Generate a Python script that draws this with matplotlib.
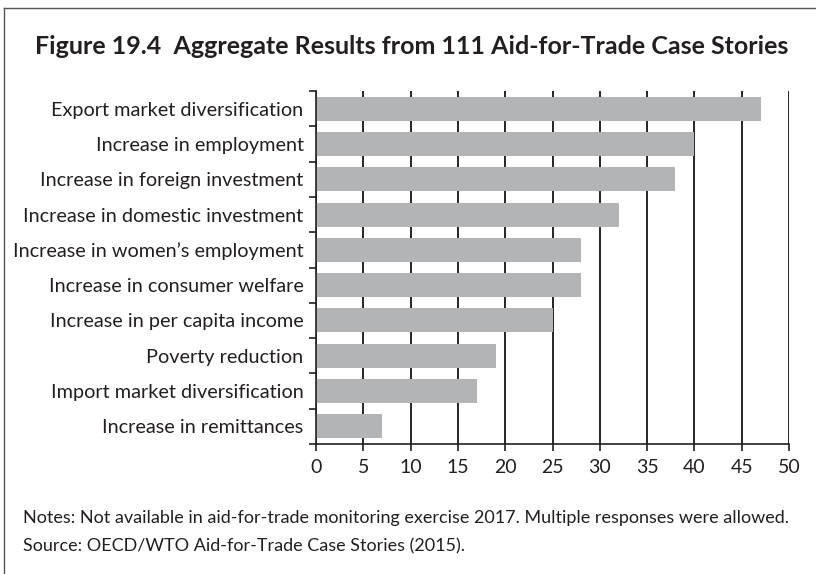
import matplotlib.pyplot as plt
from matplotlib.lines import Line2D
import numpy as np

categories = [
    "Export market diversification",
    "Increase in employment",
    "Increase in foreign investment",
    "Increase in domestic investment",
    "Increase in women\u2019s employment",
    "Increase in consumer welfare",
    "Increase in per capita income",
    "Poverty reduction",
    "Import market diversification",
    "Increase in remittances",
]
values = [47, 40, 38, 32, 28, 28, 25, 19, 17, 7]
xticks = [0, 5, 10, 15, 20, 25, 30, 35, 40, 45, 50]

title = "Figure 19.4  Aggregate Results from 111 Aid-for-Trade Case Stories"
notes = "Notes: Not available in aid-for-trade monitoring exercise 2017. Multiple responses were allowed."
source = "Source: OECD/WTO Aid-for-Trade Case Stories (2015)."

plt.rcParams['font.family'] = ['Lato', 'DejaVu Sans']
ink = '#231f20'

fig = plt.figure(figsize=(8.16, 5.74), dpi=100)
ax = fig.add_axes([316 / 816, 1 - 444 / 574, 473 / 816, 353 / 574])

y = np.arange(len(categories))
ax.barh(y, values, height=0.68, color='#b3b4b6', zorder=2)

ax.set_ylim(len(categories) - 0.5, -0.5)
ax.set_xlim(0, 50)
ax.set_xticks(xticks)
ax.set_xticklabels([str(t) for t in xticks], fontsize=14, color=ink)
ax.set_yticks(y)
ax.set_yticklabels(categories, fontsize=14.3, color=ink)
ax.set_yticks(np.arange(-0.5, len(categories)), minor=True)
ax.tick_params(axis='y', which='major', length=0, pad=9)
ax.tick_params(axis='y', which='minor', length=5, width=1.2, direction='out', color=ink)
ax.tick_params(axis='x', length=5, width=1.2, color=ink, pad=6)

ax.grid(axis='x', color='black', linewidth=1.2, zorder=1)
ax.set_axisbelow(True)
for s in ['top', 'right']:
    ax.spines[s].set_visible(False)
for s in ['left', 'bottom']:
    ax.spines[s].set_color(ink)
    ax.spines[s].set_linewidth(1.2)

# frame lines (top and left)
fig.add_artist(Line2D([4 / 816, 1], [1 - 8 / 574, 1 - 8 / 574], color='#555555', lw=1))
fig.add_artist(Line2D([4 / 816, 4 / 816], [0, 1 - 8 / 574], color='#555555', lw=1))

fig.text(35 / 816, 1 - 47 / 574, title, fontsize=18, fontweight='bold', color=ink, va='center')
fig.text(23 / 816, 1 - 518 / 574, notes, fontsize=13, color=ink, va='center')
fig.text(23 / 816, 1 - 546 / 574, source, fontsize=13, color=ink, va='center')

fig.savefig('out.png', dpi=100)
